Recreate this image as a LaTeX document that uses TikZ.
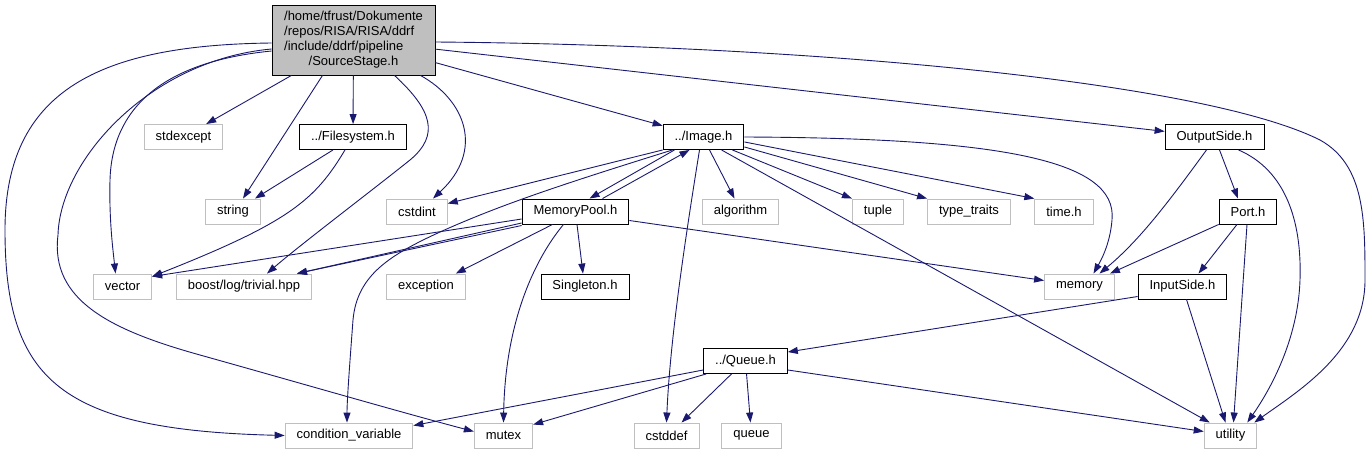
\documentclass[tikz,border=0pt]{standalone}
\usepackage{fontspec}
\setmainfont{Liberation Sans}
\usepackage{tikz}
\usetikzlibrary{arrows.meta}
\definecolor{EdgeBlue}{HTML}{191970}
\definecolor{SysGray}{HTML}{BFBFBF}

\begin{document}
\begin{tikzpicture}[
  x=1pt,y=-1pt,
  hdr/.style={draw=black,fill=white,line width=0.9pt,inner xsep=11.5pt,inner ysep=0pt,minimum height=25pt,font=\fontsize{13}{15}\selectfont},
  sys/.style={hdr,draw=SysGray},
  mainhdr/.style={hdr,fill=SysGray,minimum width=163pt,minimum height=70pt},
  dep/.style={-{Triangle[length=10pt,width=7pt]},line width=0.9pt,draw=EdgeBlue}
]
\useasboundingbox (0,0) rectangle (1371,455);
\node[mainhdr] (src) at (353.5,40) {\begin{tabular}{@{}l@{}}/home/tfrust/Dokumente\\/repos/RISA/RISA/ddrf\\/include/ddrf/pipeline\\\multicolumn{1}{@{}c@{}}{/SourceStage.h}\end{tabular}};
\node[sys] (stdexc) at (183.5,137) {stdexcept};
\node[hdr] (fsys) at (353,137) {../Filesystem.h};
\node[hdr] (img) at (703.5,137) {../Image.h};
\node[hdr] (outs) at (1214.5,137) {OutputSide.h};
\node[sys] (str) at (233,211.5) {string};
\node[sys] (cstdint) at (417,211.5) {cstdint};
\node[hdr] (mpool) at (575.5,211.5) {MemoryPool.h};
\node[sys] (algo) at (740.5,211.5) {algorithm};
\node[sys] (tup) at (878,211.5) {tuple};
\node[sys] (ttr) at (969,211.5) {type\_traits};
\node[sys] (timeh) at (1064,211.5) {time.h};
\node[hdr] (port) at (1248,211.5) {Port.h};
\node[sys] (vec) at (122.5,286.5) {vector};
\node[sys] (boost) at (244,286.5) {boost/log/trivial.hpp};
\node[sys] (exc) at (426,286.5) {exception};
\node[hdr] (sing) at (585,286.5) {Singleton.h};
\node[sys] (mem) at (1079.5,286.5) {memory};
\node[hdr] (ins) at (1182.5,286.5) {InputSide.h};
\node[hdr] (queueh) at (745.5,361) {../Queue.h};
\node[sys] (condv) at (349,435.5) {condition\_variable};
\node[sys] (mtx) at (503.5,435.5) {mutex};
\node[sys] (cstddef) at (666.5,435.5) {cstddef};
\node[sys] (que) at (751.5,435.5) {queue};
\node[sys] (util) at (1230.5,435.5) {utility};
\draw[dep] (src) -- (stdexc);
\draw[dep] (src) -- (fsys);
\draw[dep] ([xshift=-31pt]src.south) -- ([xshift=10pt]str.north);
\draw[dep] ([xshift=41pt]src.south) .. controls (432,110) and (440,135) .. (410,160) .. controls (370,192) and (300,245) .. ([xshift=23pt]boost.north);
\draw[dep] ([xshift=67pt]src.south) .. controls (465,100) and (485,150) .. ([xshift=16pt]cstdint.north);
\draw[dep] ([yshift=-11pt]src.west) .. controls (160,62) and (112,110) .. (110,180) .. controls (109,220) and (113,250) .. ([xshift=-7pt]vec.north);
\draw[dep] ([yshift=-9pt]src.west) .. controls (150,60) and (60,160) .. (58,235) .. controls (50,300) and (110,330) .. (200,355) .. controls (300,383) and (400,412) .. ([yshift=4pt]mtx.west);
\draw[dep] ([yshift=-3pt]src.west) .. controls (100,45) and (5,90) .. (5,230) .. controls (5,380) and (60,430) .. (condv.west);
\draw[dep] (src) -- (img);
\draw[dep] (src) -- (outs);
\draw[dep] ([yshift=-2pt]src.east) .. controls (800,45) and (1200,80) .. (1320,140) .. controls (1365,165) and (1365,220) .. (1365,280) .. controls (1365,350) and (1300,390) .. ([xshift=-3pt]util.north east);
\draw[dep] ([xshift=-20pt]fsys.south) -- ([xshift=22pt]str.north);
\draw[dep] ([xshift=-8pt]fsys.south) .. controls (315,200) and (290,222) .. ([yshift=10pt]vec.east);
\draw[dep] (img.south west) -- ([yshift=8pt]cstdint.east);
\draw[dep] ([xshift=-31pt]img.south) .. controls (560,185) and (500,205) .. (440,232) .. controls (390,255) and (357,275) .. (353,320) .. controls (350,360) and (347,400) .. ([xshift=-2pt]condv.north);
\draw[dep] ([xshift=-29pt]img.south) -- ([xshift=14pt]mpool.north);
\draw[dep] ([xshift=27pt]mpool.north) -- ([xshift=-14pt]img.south);
\draw[dep] ([xshift=6pt]img.south) -- ([xshift=-6pt]algo.north);
\draw[dep] ([xshift=-12pt]img.south east) -- (tup.north west);
\draw[dep] ([yshift=3pt]img.south east) -- (ttr.north west);
\draw[dep] ([yshift=8pt]img.south east) -- (timeh.north west);
\draw[dep] (img.east) .. controls (1000,138) and (1118,160) .. (1112,220) .. controls (1110,245) and (1100,262) .. ([xshift=14pt]mem.north);
\draw[dep] ([xshift=-4pt]img.south) .. controls (685,240) and (670,340) .. (cstddef.north);
\draw[dep] ([xshift=18pt]img.south) -- ([xshift=6pt]util.north west);
\draw[dep] ([yshift=-7.5pt]mpool.west) -- ([yshift=10pt]vec.east);
\draw[dep] ([yshift=-11.5pt]mpool.west) -- ([xshift=-15pt]boost.north east);
\draw[dep] ([yshift=-14pt]mpool.west) -- ([xshift=-15pt]boost.north east);
\draw[dep] ([xshift=-23pt]mpool.south) -- ([xshift=-10pt]exc.north east);
\draw[dep] ([xshift=-12pt]mpool.south) .. controls (530,265) and (505,330) .. (mtx.north);
\draw[dep] ([xshift=1.5pt]mpool.south) -- ([xshift=-2pt]sing.north);
\draw[dep] ([yshift=-9pt]mpool.east) -- ([yshift=6pt]mem.west);
\draw[dep] ([xshift=5pt]outs.south) -- ([xshift=-10pt]port.north);
\draw[dep] ([xshift=-8pt]outs.south) .. controls (1170,200) and (1140,240) .. ([xshift=20pt]mem.north);
\draw[dep] ([xshift=24pt]outs.south) .. controls (1285,170) and (1302,220) .. (1300,280) .. controls (1298,340) and (1270,390) .. ([xshift=-10pt]util.north east);
\draw[dep] (port.south west) -- ([xshift=-5pt]mem.north east);
\draw[dep] ([xshift=-11pt]port.south) -- ([xshift=16pt]ins.north);
\draw[dep] ([xshift=-1pt]port.south) -- ([xshift=3pt]util.north);
\draw[dep] ([yshift=-10pt]ins.west) -- ([yshift=9pt]queueh.east);
\draw[dep] ([xshift=4pt]ins.south) -- ([xshift=-5pt]util.north);
\draw[dep] ([yshift=-9pt]queueh.west) -- ([yshift=-3pt]condv.north east);
\draw[dep] ([xshift=3pt]queueh.south west) -- ([yshift=-2pt]mtx.north east);
\draw[dep] ([xshift=-14pt]queueh.south) -- ([xshift=15pt]cstddef.north);
\draw[dep] (queueh) -- (que);
\draw[dep] ([yshift=-9pt]queueh.east) -- ([yshift=4pt]util.west);
\end{tikzpicture}
\end{document}
